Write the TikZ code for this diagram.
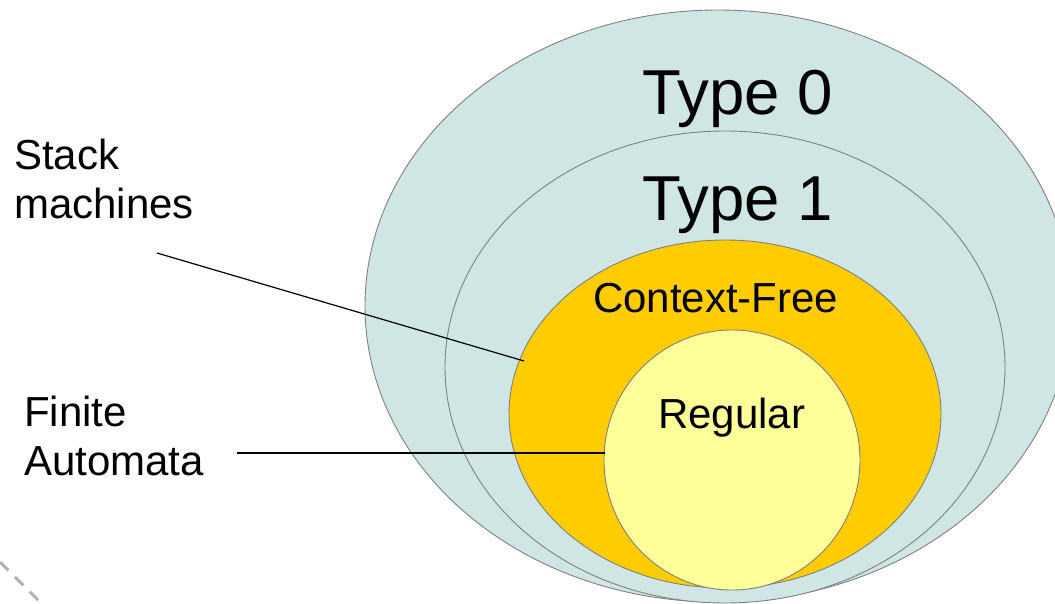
\documentclass[tikz,border=0pt]{standalone}
\usepackage{fontspec}
\setmainfont{Liberation Sans}
\begin{document}
\begin{tikzpicture}[x=1pt,y=-1pt,
  region/.style={draw=black!50, line width=0.9pt},
  pointer/.style={draw=black, line width=1.2pt},
  big/.style={font=\fontsize{63.5}{70}\selectfont, inner sep=0pt, anchor=base west},
  mid/.style={font=\fontsize{42}{50}\selectfont, inner sep=0pt, anchor=base west},
]
\useasboundingbox (0,0) rectangle (1055,603);
\clip (0,0) rectangle (1055,603);

% nested language classes
\path[region, fill={rgb,255:red,207;green,230;blue,228}] (718,306) ellipse [x radius=353, y radius=296];
\path[region, fill={rgb,255:red,207;green,230;blue,228}] (725,367) ellipse [x radius=280, y radius=236];
\path[region, fill={rgb,255:red,255;green,204;blue,0}] (725,414) ellipse [x radius=216, y radius=174];
\path[region, fill={rgb,255:red,255;green,255;blue,153}] (732,460) ellipse [x radius=128, y radius=130];

% class names
\node[big] (t0) at (642,114) {Type 0};
\node[big] (t1) at (642,220) {Type 1};
\node[mid] (cf) at (593,312) {Context-Free};
\node[mid] (reg) at (658,428) {Regular};

% machine labels
\node[mid] (stack) at (14,169) {Stack};
\node[mid] (mach) at (14,218) {machines};
\node[mid] (fin) at (24,426) {Finite};
\node[mid] (auto) at (24,475) {Automata};

% pointers into the regions
\coordinate (sfrom) at (157,253);
\coordinate (sto) at (524,361);
\coordinate (ffrom) at (237,453);
\coordinate (fto) at (605,453);
\draw[pointer] (sfrom) -- (sto);
\draw[pointer] (ffrom) -- (fto);

% faint dashed mark in the corner
\coordinate (da) at (0,562);
\coordinate (db) at (45,607);
\draw[black!30, line width=3pt, dash pattern=on 12pt off 9pt] (da) -- (db);
\end{tikzpicture}
\end{document}
